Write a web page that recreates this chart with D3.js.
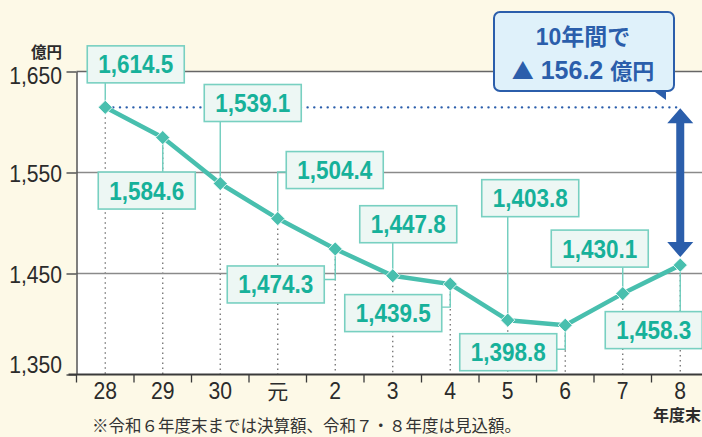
<!DOCTYPE html>
<html>
<head>
<meta charset="utf-8">
<script src="https://cdn.jsdelivr.net/npm/d3@7"></script>
<style>
body { margin: 0; background: #fdf9e7; }
svg { display: block; }
</style>
</head>
<body>
<svg id="chart" width="702" height="437"></svg>
<script>
// 年度末の残高（億円）
const years = ["28", "29", "30", "元", "2", "3", "4", "5", "6", "7", "8"];
const balances = [1614.5, 1584.6, 1539.1, 1504.4, 1474.3, 1447.8, 1439.5, 1403.8, 1398.8, 1430.1, 1458.3];
const yTicks = [1350, 1450, 1550, 1650];
const unitLabel = "億円";
const xUnitLabel = "年度末";
const noteText = "※令和６年度末までは決算額、令和７・８年度は見込額。";
const calloutTop = "10年間で";
const calloutBottom = ["▲", " 156.2 ", "億円"];

// where each value box sits relative to its point, and how the leader is drawn
const labelPlace = [
	{dx: 30.5, dy: -43, leader: "v"},
	{dx: -16, dy: 53, leader: "v"},
	{dx: 32.5, dy: -80.5, leader: "v"},
	{dx: 57, dy: -48.5, leader: "h", ey: 2},
	{dx: -59.5, dy: 35.5, leader: "h", ey: -5},
	{dx: 15.5, dy: -51.5, leader: "v"},
	{dx: -57, dy: 29, leader: "h", ey: -6},
	{dx: 22.5, dy: -122, leader: "v"},
	{dx: -57, dy: 27, leader: "h", ey: -3},
	{dx: -23, dy: -45, leader: "v"},
	{dx: -26.5, dy: 65, leader: "v"}
];

const W = 702, H = 437;
const plotLeft = 76.5, plotTop = 71.5, plotBottom = 374.5;
const step = 57.5;

const teal = "#48bfae";
const tealText = "#17b19a";
const blue = "#2b5eab";
const numFont = "'Liberation Sans', Arial, sans-serif";
const jpFont = "'Noto Sans CJK JP', sans-serif";
// the original digits are a condensed face, so squeeze the text a little
const squeeze = 0.88;

const svg = d3.select("#chart");

const x = d3.scaleBand()
	.domain(years)
	.range([plotLeft, plotLeft + step * years.length])
	.paddingInner(0).paddingOuter(0);
const cx = d => x(d) + x.bandwidth() / 2;

const y = d3.scaleLinear()
	.domain([1350, 1650])
	.range([plotBottom, plotTop]);

const data = years.map((yr, i) => ({
	year: yr,
	value: balances[i],
	px: cx(yr),
	py: y(balances[i]),
	place: labelPlace[i]
}));

// plot area
svg.append("rect")
	.attr("x", plotLeft).attr("y", plotTop)
	.attr("width", W - plotLeft).attr("height", plotBottom - plotTop)
	.attr("fill", "#fff");

// dotted drop lines
svg.append("g")
	.selectAll("line")
	.data(data)
	.join("line")
	.attr("x1", d => d.px).attr("x2", d => d.px)
	.attr("y1", d => d.py).attr("y2", plotBottom)
	.attr("stroke", "#6f6f6f")
	.attr("stroke-width", 1.3)
	.attr("stroke-dasharray", "1.5,3.5");

// grid lines
svg.append("g")
	.selectAll("line")
	.data(yTicks.filter(t => t > 1350))
	.join("line")
	.attr("x1", plotLeft).attr("x2", W)
	.attr("y1", d => y(d)).attr("y2", d => y(d))
	.attr("stroke", d => d === 1650 ? "#666" : "#8a8a8a")
	.attr("stroke-width", 1.5);

// y axis
const yAxis = svg.append("g")
	.attr("transform", `translate(${plotLeft},0)`)
	.call(d3.axisLeft(y)
		.tickValues(yTicks)
		.tickFormat(d3.format(","))
		.tickSize(10)
		.tickSizeOuter(0)
		.tickPadding(5));
yAxis.select(".domain").attr("stroke", "#555").attr("stroke-width", 1.5);
yAxis.selectAll(".tick line").attr("stroke", "#555").attr("stroke-width", 1.5);
yAxis.selectAll(".tick text")
	.attr("x", -14.5 / squeeze)
	.attr("transform", `scale(${squeeze},1)`)
	.attr("font-family", numFont)
	.attr("font-size", 24)
	.attr("fill", "#2b2b2b")
	.attr("dy", d => d === 1350 ? "-0.1em" : d === 1650 ? "0.5em" : "0.38em");

svg.append("text")
	.attr("x", 62).attr("y", 58)
	.attr("text-anchor", "end")
	.attr("font-family", jpFont)
	.attr("font-size", 15.5)
	.attr("font-weight", 700)
	.attr("fill", "#2b2b2b")
	.text(unitLabel);

// x axis
svg.append("line")
	.attr("x1", plotLeft - 8).attr("x2", W)
	.attr("y1", plotBottom).attr("y2", plotBottom)
	.attr("stroke", "#3a3a3a")
	.attr("stroke-width", 2.2);
svg.append("g")
	.selectAll("line")
	.data(years)
	.join("line")
	.attr("x1", d => x(d)).attr("x2", d => x(d))
	.attr("y1", plotBottom).attr("y2", plotBottom + 8)
	.attr("stroke", "#3a3a3a")
	.attr("stroke-width", 1.3);
svg.append("g")
	.selectAll("text")
	.data(years)
	.join("text")
	.attr("transform", d => `translate(${cx(d)},399) scale(${d === "元" ? 1 : 0.92},1)`)
	.attr("text-anchor", "middle")
	.attr("font-family", d => d === "元" ? jpFont : numFont)
	.attr("font-size", d => d === "元" ? 21 : 23)
	.attr("fill", "#2b2b2b")
	.text(d => d);
svg.append("text")
	.attr("x", 701).attr("y", 421)
	.attr("text-anchor", "end")
	.attr("font-family", jpFont)
	.attr("font-size", 16)
	.attr("font-weight", 700)
	.attr("fill", "#2b2b2b")
	.text(xUnitLabel);
svg.append("text")
	.attr("x", 92).attr("y", 431.5)
	.attr("font-family", jpFont)
	.attr("font-size", 16.5)
	.attr("fill", "#333")
	.text(noteText);

// blue dotted reference line at the first year's level
const first = data[0], last = data[data.length - 1];
svg.append("line")
	.attr("x1", first.px + 8).attr("x2", last.px)
	.attr("y1", first.py).attr("y2", first.py)
	.attr("stroke", blue)
	.attr("stroke-width", 2.4)
	.attr("stroke-linecap", "round")
	.attr("stroke-dasharray", "0.1,6.6");

// leaders from boxes to points
const bw = 97, bh = 37;
function leaderPath(d) {
	const p = d.place;
	const bx = d.px + p.dx, by = d.py + p.dy;
	if (p.leader === "v") {
		const edge = p.dy > 0 ? by - bh / 2 : by + bh / 2;
		return `M${d.px},${d.py}V${edge}`;
	}
	const edgeX = p.dx > 0 ? bx - bw / 2 : bx + bw / 2;
	return `M${d.px},${d.py}V${by + p.ey}H${edgeX}`;
}
svg.append("g")
	.selectAll("path")
	.data(data)
	.join("path")
	.attr("d", leaderPath)
	.attr("fill", "none")
	.attr("stroke", "#6fcdbd")
	.attr("stroke-width", 1.4);

// the line and its markers
svg.append("path")
	.datum(data)
	.attr("d", d3.line().x(d => d.px).y(d => d.py))
	.attr("fill", "none")
	.attr("stroke", teal)
	.attr("stroke-width", 4.5)
	.attr("stroke-linejoin", "round");
svg.append("g")
	.selectAll("path")
	.data(data)
	.join("path")
	.attr("d", d3.symbol(d3.symbolSquare, 100))
	.attr("transform", d => `translate(${d.px},${d.py}) rotate(45)`)
	.attr("fill", teal)
	.attr("stroke", "#fff")
	.attr("stroke-width", 0.8);

// value boxes
const boxes = svg.append("g")
	.selectAll("g")
	.data(data)
	.join("g")
	.attr("transform", d => `translate(${d.px + d.place.dx},${d.py + d.place.dy})`);
boxes.append("rect")
	.attr("x", -bw / 2).attr("y", -bh / 2)
	.attr("width", bw).attr("height", bh)
	.attr("fill", "#edf7f4")
	.attr("stroke", "#78d0c1")
	.attr("stroke-width", 1.6);
boxes.append("text")
	.attr("transform", "scale(0.9,1)")
	.attr("text-anchor", "middle")
	.attr("dy", "0.36em")
	.attr("font-family", numFont)
	.attr("font-weight", "bold")
	.attr("font-size", 25)
	.attr("fill", tealText)
	.text(d => d3.format(",.1f")(d.value));

// double-headed arrow showing the 10 year change
const ax = last.px, aTop = first.py + 1, aBot = last.py - 8;
const hw = 13, hh = 15, sw = 4;
svg.append("path")
	.attr("d", `M${ax},${aTop}L${ax + hw},${aTop + hh}H${ax + sw}V${aBot - hh}H${ax + hw}` +
		`L${ax},${aBot}L${ax - hw},${aBot - hh}H${ax - sw}V${aTop + hh}H${ax - hw}Z`)
	.attr("fill", blue);

// callout
const callout = svg.append("g");
callout.append("path")
	.attr("d", "M651,89L666,89L666,100Z")
	.attr("fill", blue);
callout.append("rect")
	.attr("x", 494).attr("y", 12)
	.attr("width", 180).attr("height", 79)
	.attr("rx", 6)
	.attr("fill", "#dff1fa")
	.attr("stroke", blue)
	.attr("stroke-width", 2);
callout.append("text")
	.attr("x", 583).attr("y", 45)
	.attr("text-anchor", "middle")
	.attr("font-family", numFont + ", " + jpFont)
	.attr("font-weight", "bold")
	.attr("font-size", 23)
	.attr("fill", blue)
	.text(calloutTop);
const bottomLine = callout.append("text")
	.attr("x", 583).attr("y", 79)
	.attr("text-anchor", "middle")
	.attr("font-weight", "bold")
	.attr("fill", blue);
bottomLine.selectAll("tspan")
	.data(calloutBottom)
	.join("tspan")
	.attr("font-family", (d, i) => i === 1 ? numFont : jpFont)
	.attr("font-size", (d, i) => i === 1 ? 25 : 22)
	.text(d => d);
</script>
</body>
</html>
